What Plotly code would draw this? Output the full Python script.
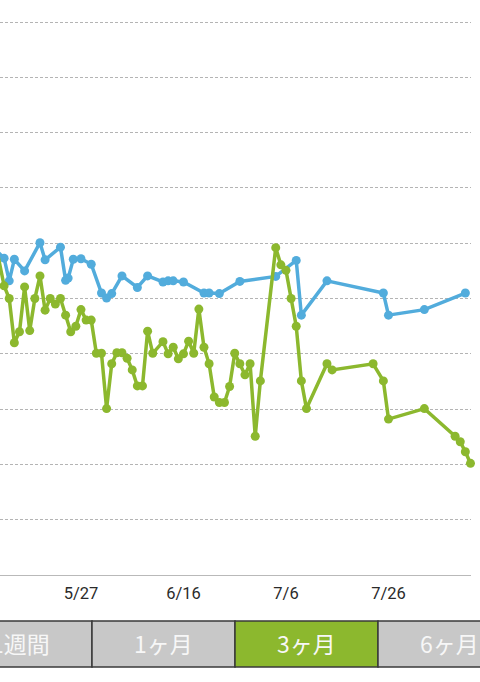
import plotly.graph_objects as go

# 系列データ
blue_dates = [
    '2015-05-10', '2015-05-12', '2015-05-13', '2015-05-14', '2015-05-16',
    '2015-05-19', '2015-05-20', '2015-05-23', '2015-05-24', '2015-05-24 12:00',
    '2015-05-25 12:00', '2015-05-27', '2015-05-29', '2015-05-31', '2015-06-01',
    '2015-06-02', '2015-06-04', '2015-06-07', '2015-06-09', '2015-06-12',
    '2015-06-13', '2015-06-14', '2015-06-16', '2015-06-20', '2015-06-21',
    '2015-06-23', '2015-06-27', '2015-07-04', '2015-07-08', '2015-07-09',
    '2015-07-14', '2015-07-25', '2015-07-26', '2015-08-02', '2015-08-10',
]
blue_values = [
    5.91, 5.73, 5.32, 5.71, 5.50,
    6.01, 5.70, 5.93, 5.33, 5.37,
    5.71, 5.72, 5.62, 5.10, 5.01,
    5.09, 5.41, 5.20, 5.41, 5.30,
    5.32, 5.32, 5.30, 5.10, 5.10,
    5.09, 5.31, 5.40, 5.69, 4.70,
    5.32, 5.10, 4.70, 4.80, 5.10,
]

green_dates = [
    '2015-05-10', '2015-05-12', '2015-05-13', '2015-05-14', '2015-05-15',
    '2015-05-16', '2015-05-17', '2015-05-18', '2015-05-19', '2015-05-20',
    '2015-05-21', '2015-05-22', '2015-05-23', '2015-05-24', '2015-05-25',
    '2015-05-26', '2015-05-27', '2015-05-28', '2015-05-29', '2015-05-30',
    '2015-05-31', '2015-06-01', '2015-06-02', '2015-06-03', '2015-06-04',
    '2015-06-05', '2015-06-06', '2015-06-07', '2015-06-08', '2015-06-09',
    '2015-06-10', '2015-06-12', '2015-06-13', '2015-06-14', '2015-06-15',
    '2015-06-16', '2015-06-17', '2015-06-18', '2015-06-19', '2015-06-20',
    '2015-06-21', '2015-06-22', '2015-06-23', '2015-06-24', '2015-06-25',
    '2015-06-26', '2015-06-27', '2015-06-28', '2015-06-29', '2015-06-30',
    '2015-07-01', '2015-07-04', '2015-07-05', '2015-07-06', '2015-07-07',
    '2015-07-08', '2015-07-09', '2015-07-10', '2015-07-14', '2015-07-15',
    '2015-07-23', '2015-07-25', '2015-07-26', '2015-08-02', '2015-08-08',
    '2015-08-09', '2015-08-10', '2015-08-11',
]
green_values = [
    6.15, 5.23, 5.00, 4.20, 4.40,
    5.21, 4.42, 5.00, 5.41, 4.79,
    5.00, 4.90, 5.00, 4.70, 4.40,
    4.50, 4.80, 4.61, 4.61, 4.01,
    4.01, 3.01, 3.82, 4.02, 4.02,
    3.92, 3.71, 3.42, 3.42, 4.41,
    4.01, 4.22, 4.00, 4.12, 3.91,
    4.00, 4.23, 4.01, 4.81, 4.12,
    3.82, 3.22, 3.12, 3.12, 3.41,
    4.01, 3.82, 3.62, 3.82, 2.51,
    3.51, 5.92, 5.61, 5.51, 5.00,
    4.50, 3.51, 3.01, 3.82, 3.71,
    3.82, 3.51, 2.82, 3.01, 2.51,
    2.41, 2.23, 2.02,
]

tick_dates = ['2015-05-27', '2015-06-16', '2015-07-06', '2015-07-26']
tick_labels = ['5/27', '6/16', '7/6', '7/26']

tab_labels = ['1週間', '1ヶ月', '3ヶ月', '6ヶ月']
active_tab = 2

BLUE = '#52acdc'
GREEN = '#8cb82e'

fig = go.Figure()
fig.add_trace(go.Scatter(
    x=blue_dates, y=blue_values, mode='lines+markers',
    line=dict(color=BLUE, width=3.5),
    marker=dict(color=BLUE, size=9),
    cliponaxis=False, hoverinfo='skip',
))
fig.add_trace(go.Scatter(
    x=green_dates, y=green_values, mode='lines+markers',
    line=dict(color=GREEN, width=3.5),
    marker=dict(color=GREEN, size=9),
    cliponaxis=False, hoverinfo='skip',
))

fig.update_layout(
    width=480, height=682,
    margin=dict(l=0, r=9, t=21, b=107),
    paper_bgcolor='white', plot_bgcolor='white',
    showlegend=False,
    xaxis=dict(
        type='date',
        range=['2015-05-11 04:48', '2015-08-11 02:24'],
        tickvals=tick_dates, ticktext=tick_labels,
        showgrid=False, zeroline=False,
        showline=True, linecolor='#b9b9b9', linewidth=1,
        ticks='outside', ticklen=3, tickcolor='rgba(0,0,0,0)',
        tickfont=dict(family='Roboto', size=16.5, color='#2a2a2a'),
    ),
    yaxis=dict(
        range=[0, 10.02], dtick=1,
        showticklabels=False, zeroline=False,
        showgrid=True, gridcolor='#b4b4b4', gridwidth=1, griddash='3px,2px',
    ),
)

# 期間切替タブ(下部)
tab_width = 143
tab_left = -51
for i, label in enumerate(tab_labels):
    x0 = tab_left + i * tab_width
    fill = GREEN if i == active_tab else '#c8c8c8'
    fig.add_shape(
        type='rect', xref='paper', yref='paper',
        xsizemode='pixel', ysizemode='pixel', xanchor=0, yanchor=0,
        x0=x0, x1=x0 + tab_width, y0=-46, y1=-92,
        fillcolor=fill, line=dict(color='#3a3a3a', width=1.5),
        layer='above',
    )
    fig.add_annotation(
        xref='paper', yref='paper', x=0, y=0,
        xshift=x0 + tab_width / 2, yshift=-68,
        text=label, showarrow=False,
        xanchor='center', yanchor='middle',
        font=dict(family='Noto Sans CJK JP', size=23, color='#f7f7f7'),
    )

fig.write_html(
    'out.html',
    config={'displayModeBar': False},
    post_script="document.body.style.margin='0';",
)
